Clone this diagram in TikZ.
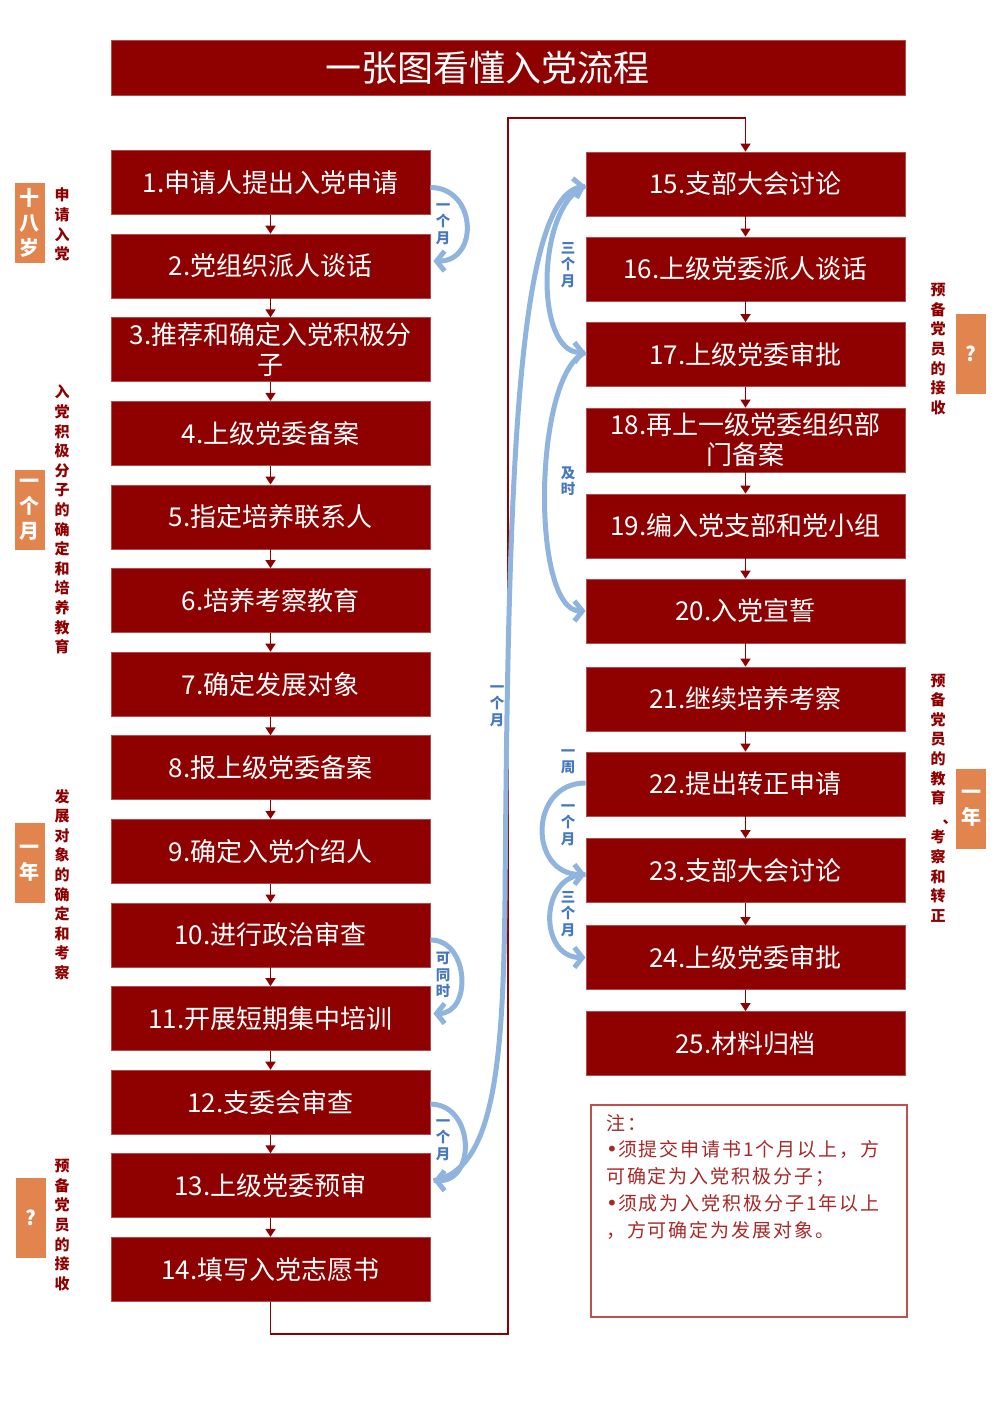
\documentclass[tikz,border=0pt]{standalone}
\usepackage{fontspec}
\setmainfont{Noto Sans CJK SC}
\newfontfamily\notefont[LetterSpace=10]{Noto Sans CJK SC}
\newfontfamily\dotfont{DejaVu Sans}
\usetikzlibrary{arrows.meta}

\definecolor{partyred}{RGB}{143,0,0}
\definecolor{tagorange}{RGB}{226,132,78}
\definecolor{jumpblue}{RGB}{143,180,222}
\definecolor{jumptext}{RGB}{72,120,188}
\definecolor{noteline}{RGB}{192,80,77}
\definecolor{notetext}{RGB}{168,40,40}

\tikzset{
  stepbox/.style={fill=partyred, draw=partyred!70!white, line width=0.8pt,
    minimum width=319pt, minimum height=64pt, inner sep=0pt, align=center,
    text=white, font=\fontsize{26}{30}\selectfont},
  flowline/.style={partyred, line width=1.5pt, -{Triangle[length=8pt,width=10pt]}},
  jumpline/.style={jumpblue, line width=5pt, -{Straight Barb[length=8pt,width=20pt]}},
  sidelabel/.style={partyred, inner sep=0pt, align=center,
    font=\bfseries\fontsize{15}{19.6}\selectfont},
  sidetag/.style={fill=tagorange, text=white, minimum width=30pt, minimum height=80pt,
    inner sep=0pt, align=center, font=\bfseries\fontsize{20}{25}\selectfont},
  jumplabel/.style={jumptext, inner sep=0pt, align=center,
    font=\bfseries\fontsize{14.5}{16.5}\selectfont}
}
\newcommand{\notedot}{{\dotfont\fontsize{20}{20}\selectfont •}}

\begin{document}
\begin{tikzpicture}[x=1pt, y=-1pt]
  %%%%% START %%%%%
  \useasboundingbox (0,0) rectangle (999,1404);

  \node[stepbox, minimum width=794pt, minimum height=55pt, font=\fontsize{36}{40}\selectfont] (title) at (508,67.5) {一张图看懂入党流程\hspace{41pt}};

  % left column
  \node[stepbox] (b1) at (270.5,182.5) {1.申请人提出入党申请};
  \node[stepbox] (b2) at (270.5,266.1) {2.党组织派人谈话};
  \node[stepbox] (b3) at (270.5,349.7) {3.推荐和确定入党积极分\\子};
  \node[stepbox] (b4) at (270.5,433.3) {4.上级党委备案};
  \node[stepbox] (b5) at (270.5,516.9) {5.指定培养联系人};
  \node[stepbox] (b6) at (270.5,600.5) {6.培养考察教育};
  \node[stepbox] (b7) at (270.5,684.1) {7.确定发展对象};
  \node[stepbox] (b8) at (270.5,767.7) {8.报上级党委备案};
  \node[stepbox] (b9) at (270.5,851.3) {9.确定入党介绍人};
  \node[stepbox] (b10) at (270.5,934.9) {10.进行政治审查};
  \node[stepbox] (b11) at (270.5,1018.5) {11.开展短期集中培训};
  \node[stepbox] (b12) at (270.5,1102.1) {12.支委会审查};
  \node[stepbox] (b13) at (270.5,1185.7) {13.上级党委预审};
  \node[stepbox] (b14) at (270.5,1269.3) {14.填写入党志愿书};

  % right column
  \node[stepbox] (b15) at (745.5,184) {15.支部大会讨论};
  \node[stepbox] (b16) at (745.5,269) {16.上级党委派人谈话};
  \node[stepbox] (b17) at (745.5,354.5) {17.上级党委审批};
  \node[stepbox] (b18) at (745.5,440) {18.再上一级党委组织部\\门备案};
  \node[stepbox] (b19) at (745.5,526) {19.编入党支部和党小组};
  \node[stepbox] (b20) at (745.5,611) {20.入党宣誓};
  \node[stepbox] (b21) at (745.5,699) {21.继续培养考察};
  \node[stepbox] (b22) at (745.5,784) {22.提出转正申请};
  \node[stepbox] (b23) at (745.5,870.5) {23.支部大会讨论};
  \node[stepbox] (b24) at (745.5,957.5) {24.上级党委审批};
  \node[stepbox] (b25) at (745.5,1043.5) {25.材料归档};

  % red flow
  \draw[flowline] (b1) -- (b2);
  \draw[flowline] (b2) -- (b3);
  \draw[flowline] (b3) -- (b4);
  \draw[flowline] (b4) -- (b5);
  \draw[flowline] (b5) -- (b6);
  \draw[flowline] (b6) -- (b7);
  \draw[flowline] (b7) -- (b8);
  \draw[flowline] (b8) -- (b9);
  \draw[flowline] (b9) -- (b10);
  \draw[flowline] (b10) -- (b11);
  \draw[flowline] (b11) -- (b12);
  \draw[flowline] (b12) -- (b13);
  \draw[flowline] (b13) -- (b14);
  \draw[flowline] (b15) -- (b16);
  \draw[flowline] (b16) -- (b17);
  \draw[flowline] (b17) -- (b18);
  \draw[flowline] (b18) -- (b19);
  \draw[flowline] (b19) -- (b20);
  \draw[flowline] (b20) -- (b21);
  \draw[flowline] (b21) -- (b22);
  \draw[flowline] (b22) -- (b23);
  \draw[flowline] (b23) -- (b24);
  \draw[flowline] (b24) -- (b25);

  \coordinate (lowturn) at (508,1334);
  \coordinate (topturn) at (508,118);
  \draw[flowline] (b14.south) |- (lowturn) -- (topturn) -| (b15.north);

  % blue jumps
  \draw[jumpline] ([yshift=-5pt]b1.east) to[out=0, in=0, looseness=1.6] ([xshift=3pt, yshift=5pt]b2.east);
  \draw[jumpline] ([yshift=-5pt]b10.east) to[out=0, in=0, looseness=1.35] ([xshift=3pt, yshift=5pt]b11.east);
  \draw[jumpline] ([yshift=-2pt]b12.east) to[out=0, in=0, looseness=1.45] ([xshift=3pt, yshift=5pt]b13.east);
  \draw[jumpline] ([xshift=3pt, yshift=5pt]b13.east) .. controls (495,1170) and (503,1060) .. (505,900)
    .. controls (508,500) and (515,200) .. ([yshift=-2pt]b15.west);
  \draw[jumpline] ([yshift=-2pt]b15.west) to[out=200, in=180, looseness=0.8] ([yshift=2pt]b17.west);
  \draw[jumpline] ([yshift=2pt]b17.west) to[out=200, in=180, looseness=0.55] (b20.west);
  \draw[jumpline] ([yshift=1pt]b22.west) to[out=180, in=180, looseness=1.6] ([yshift=-4pt]b23.west);
  \draw[jumpline] ([yshift=-4pt]b23.west) to[out=180, in=180, looseness=1.45] (b24.west);

  \node[jumplabel] (gap1) at (443,224) {一\\个\\月};
  \node[jumplabel] (gap2) at (443,975) {可\\同\\时};
  \node[jumplabel] (gap3) at (443,1140) {一\\个\\月};
  \node[jumplabel] (gap4) at (497,706) {一\\个\\月};
  \node[jumplabel] (gap5) at (568,265) {三\\个\\月};
  \node[jumplabel] (gap6) at (568,481) {及\\时};
  \node[jumplabel] (gap7) at (568,762) {一\\周};
  \node[jumplabel] (gap8) at (568,825) {一\\个\\月};
  \node[jumplabel] (gap9) at (568,914) {三\\个\\月};

  % stage tags
  \node[sidetag] (tagage) at (29.5,223) {十\\八\\岁};
  \node[sidelabel] (stageapply) at (62,224.5) {申\\请\\入\\党};
  \node[sidetag] (tagmonth) at (29.5,509.5) {一\\个\\月};
  \node[sidelabel] (stageactive) at (62,519.5) {入\\党\\积\\极\\分\\子\\的\\确\\定\\和\\培\\养\\教\\育};
  \node[sidetag] (tagyear) at (29.5,863) {一\\年};
  \node[sidelabel] (stagetarget) at (62,884.5) {发\\展\\对\\象\\的\\确\\定\\和\\考\\察};
  \node[sidetag] (tagask) at (31,1218) {?};
  \node[sidelabel] (stageaccept) at (62,1225) {预\\备\\党\\员\\的\\接\\收};
  \node[sidetag] (tagaskr) at (971,353.5) {?};
  \node[sidelabel] (stageacceptr) at (938,349) {预\\备\\党\\员\\的\\接\\收};
  \node[sidetag] (tagyearr) at (971,808.5) {一\\年};
  \node[sidelabel] (stageprobe) at (938,798) {预\\备\\党\\员\\的\\教\\育\\\hspace{24pt}、\\考\\察\\和\\转\\正};

  % note
  \node[draw=noteline, line width=1.2pt, minimum width=316pt, minimum height=212pt] (notebox) at (749,1211) {};
  \node[notetext, anchor=north west, align=left, inner sep=0pt, font=\notefont\fontsize{19}{26.7}\selectfont] (notebody) at (606,1114) {注：\\\notedot 须提交申请书1个月以上，方\\可确定为入党积极分子；\\\notedot 须成为入党积极分子1年以上\\，方可确定为发展对象。};
  %%%%% END %%%%%
\end{tikzpicture}
\end{document}
